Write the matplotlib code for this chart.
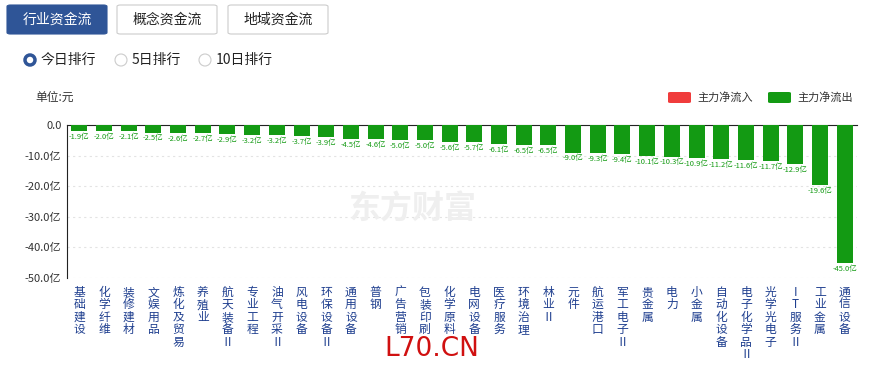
import matplotlib.pyplot as plt
from matplotlib.patches import FancyBboxPatch, Ellipse
import numpy as np

plt.rcParams['font.family'] = ['Noto Sans CJK SC', 'DejaVu Sans']

# 行业资金流 今日排行 (亿元)
categories = ['基础建设', '化学纤维', '装修建材', '文娱用品', '炼化及贸易', '养殖业',
              '航天装备Ⅱ', '专业工程', '油气开采Ⅱ', '风电设备', '环保设备Ⅱ', '通用设备',
              '普钢', '广告营销', '包装印刷', '化学原料', '电网设备', '医疗服务',
              '环境治理', '林业Ⅱ', '元件', '航运港口', '军工电子Ⅱ', '贵金属',
              '电力', '小金属', '自动化设备', '电子化学品Ⅱ', '光学光电子', 'IT服务Ⅱ',
              '工业金属', '通信设备']
values = [-1.9, -2.0, -2.1, -2.5, -2.6, -2.7, -2.9, -3.2, -3.2, -3.7, -3.9, -4.5,
          -4.6, -5.0, -5.0, -5.6, -5.7, -6.1, -6.5, -6.5, -9.0, -9.3, -9.4, -10.1,
          -10.3, -10.9, -11.2, -11.6, -11.7, -12.9, -19.6, -45.0]
yticks = [0, -10, -20, -30, -40, -50]
ytick_labels = ['0.0', '-10.0亿', '-20.0亿', '-30.0亿', '-40.0亿', '-50.0亿']

green = '#139a13'
red = '#f03c3c'
blue = '#2f5597'

fig = plt.figure(figsize=(8.69, 3.69), dpi=100)
W, H = 869, 369

def px(x, y):
    return x / W, 1 - y / H

# 顶部按钮
buttons = [('行业资金流', 7, True), ('概念资金流', 117, False), ('地域资金流', 228, False)]
for label, x0, active in buttons:
    bx, by = px(x0, 34)
    box = FancyBboxPatch((bx, by), 100 / W, 29 / H, boxstyle='round,pad=0,rounding_size=0.004',
                         transform=fig.transFigure, facecolor=blue if active else 'white',
                         edgecolor=blue if active else '#cccccc', linewidth=0.8)
    fig.patches.append(box)
    tx, ty = px(x0 + 50, 19.5)
    fig.text(tx, ty, label, ha='center', va='center', fontsize=10,
             color='white' if active else '#222222')

# 单选
radios = [('今日排行', 30, True), ('5日排行', 121, False), ('10日排行', 205, False)]
for label, x0, on in radios:
    cx, cy = px(x0, 60)
    d = 10 if on else 12
    fig.patches.append(Ellipse((cx, cy), d / W, d / H, transform=fig.transFigure,
                               facecolor='white', edgecolor=blue if on else '#cccccc',
                               linewidth=2.5 if on else 0.8))
    tx, ty = px(x0 + 11, 60)
    fig.text(tx, ty, label, ha='left', va='center', fontsize=10, color='#222222')

fig.text(*px(35, 97), '单位:元', ha='left', va='center', fontsize=8.5, color='#333333')

# 图例
for label, x0, c in [('主力净流入', 668, red), ('主力净流出', 768, green)]:
    lx, ly = px(x0, 103)
    fig.patches.append(FancyBboxPatch((lx, ly), 23 / W, 11 / H,
                                      boxstyle='round,pad=0,rounding_size=0.003',
                                      transform=fig.transFigure, facecolor=c, edgecolor='none'))
    fig.text(*px(x0 + 29, 97.5), label, ha='left', va='center', fontsize=8, color='#333333')

# 主图
l, t = px(67, 125)
r, b = px(857, 278)
ax = fig.add_axes([l, b, r - l, t - b])
x = np.arange(len(categories))
bars = ax.bar(x, values, width=0.65, color=green, zorder=3)
ax.set_xlim(-0.5, len(categories) - 0.5)
ax.set_ylim(-50, 0)
ax.set_yticks(yticks)
ax.set_yticklabels(ytick_labels, fontsize=8, color='#333333')
ax.set_xticks([])
ax.tick_params(axis='y', length=0, pad=4)
for s in ['right', 'bottom']:
    ax.spines[s].set_visible(False)
ax.spines['top'].set_color('#222222')
ax.spines['left'].set_color('#222222')
ax.spines['left'].set_linewidth(0.8)
ax.grid(axis='y', linestyle=(0, (2, 3)), color='#e3e3e3', linewidth=0.8, zorder=0)

for xi, v in zip(x, values):
    ax.text(xi, v - 0.6, f'{v:.1f}亿', ha='center', va='top', fontsize=5.4, color=green)

for xi, name in zip(x, categories):
    ax.text(xi, -52.5, '\n'.join(name), ha='center', va='top', fontsize=8.5,
            color='#1f3f8f', linespacing=0.95, clip_on=False)

# 水印
fig.text(*px(412, 210), '东方财富', ha='center', va='center', fontsize=23,
         fontweight='bold', color='#efefef', zorder=0)

fig.text(*px(432, 349), 'L70.CN', ha='center', va='center', fontsize=19,
         color='#d01010', family='DejaVu Sans')

fig.savefig('out.png', dpi=100)
